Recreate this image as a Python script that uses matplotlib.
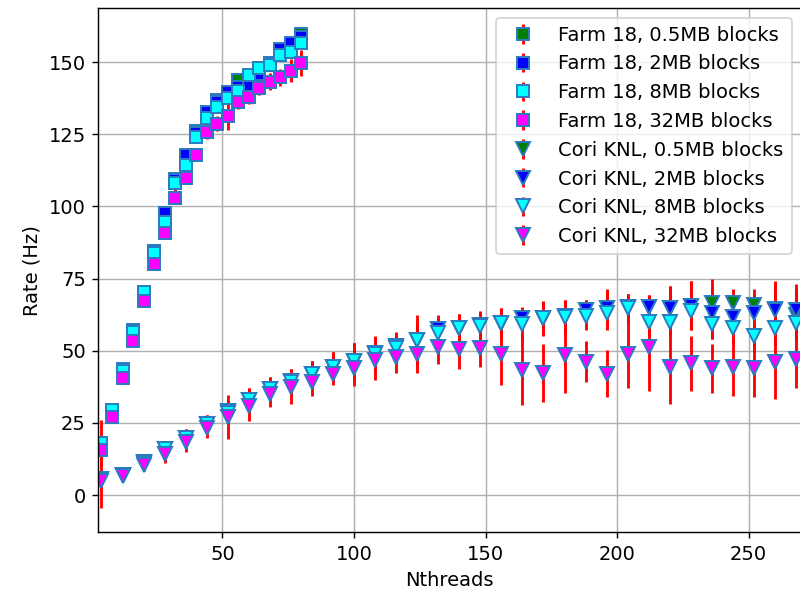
import matplotlib
matplotlib.use("Agg")
import matplotlib.pyplot as plt

# ---------------- data ----------------
farm_x = [4, 8, 12, 16, 20, 24, 28, 32, 36, 40, 44, 48, 52, 56, 60, 64, 68, 72, 76, 80]
farm_05 = [17.5, 29, 43, 57, 70.5, 84, 96, 109.5, 117, 126.2, 132.8, 137, 139, 143.7, 144.5, 144.7, 149, 154, 156, 159.6]
farm_2 = [18, 29.5, 43.5, 57, 70.5, 84.5, 97.8, 109, 117.8, 125.5, 132.8, 136, 139.7, 141.5, 141.8, 146, 149.5, 154.4, 156.7, 158.5]
farm_8 = [18.1, 29.4, 43, 56.6, 70.4, 83.9, 94.7, 108, 114.3, 124.1, 130.5, 134.5, 137.5, 140, 145.5, 147.8, 149, 152.4, 153.6, 156.7]
farm_32 = [15.6, 26.9, 40.4, 53.5, 67.2, 80, 90.6, 102.8, 109.7, 117.8, 125.8, 128.7, 131.3, 136.2, 138, 140.9, 143.2, 144.7, 147, 149.8]
farm_05_err = [1.5, 1, 1, 1, 1, 1.5, 1.5, 2, 1.5, 1.5, 1.5, 2, 2, 2, 2, 2, 2, 2, 2, 2]
farm_2_err = [1.5, 1, 1, 1, 1, 1.5, 1.5, 2, 1.5, 1.5, 1.5, 2, 2, 2, 2, 2, 2, 2, 2, 2]
farm_8_err = [8, 1, 1, 1, 1, 1.5, 1.5, 3.5, 2, 1.5, 2, 2, 2, 2, 2, 2, 2, 2, 2, 2]
farm_32_err = [2, 1, 1, 1, 1, 1.5, 1.5, 2, 2, 1.5, 2.5, 2.5, 5, 2.5, 2.5, 2.5, 3, 3, 4, 4.5]

cori_x = [4, 12, 20, 28, 36, 44, 52, 60, 68, 76, 84, 92, 100, 108, 116, 124, 132,
          140, 148, 156, 164, 172, 180, 188, 196, 204, 212, 220, 228, 236, 244, 252, 260, 268]
cori_05 = [5.5, 7, 11.3, 16, 19.8, 24.6, 29, 33, 36.8, 39.5, 42, 44.5, 46.6, 49.2, 51.6, 53.8, 57.4,
           57.8, 58.8, 59.7, 61.2, 61.3, 61.9, 64.1, 64.9, 65.2, 65.2, 64.9, 65.5, 66.4, 66.4, 66, 64.5, 62.5]
cori_2 = [5.5, 7, 11.3, 16, 19.8, 24.6, 29, 33, 36.8, 39.5, 42, 44.5, 46.6, 49.2, 51.6, 53.8, 57.4,
          57.8, 58.8, 59.7, 61.2, 61.3, 61.9, 64.1, 64.9, 65.2, 65.2, 64.9, 65.5, 63.2, 61.8, 63.2, 64.1, 64.1]
cori_8 = [5.5, 7, 11.2, 16, 19.7, 24.5, 28.5, 32.9, 36.7, 39.3, 41.8, 44.4, 46.5, 49, 50.8, 53.7, 56,
          57.7, 58.5, 59.5, 59.2, 61.2, 61.8, 62, 63.1, 64.7, 60, 60, 63.7, 59.1, 57.7, 55.1, 57.7, 59.5]
cori_32 = [5, 6.5, 10.5, 14.2, 18.3, 23.2, 27, 30.8, 34.9, 37.5, 39.3, 42.1, 43.9, 46.8, 47.9, 48.8, 51.4,
           50.5, 50.8, 49, 43.3, 42.4, 48.5, 46.2, 42.1, 49, 51.2, 44.2, 45.6, 43.9, 44.2, 43.9, 46.2, 47]
cori_05_err = [3, 1.5, 2, 2.5, 3, 3, 4, 4, 4, 4, 4.5, 5, 6, 6, 5, 6, 5,
               5, 5, 5, 4, 5.5, 5.5, 3.5, 6, 4.5, 4, 7.5, 8.5, 8.5, 5, 5.5, 9.5, 9]
cori_2_err = [3, 1.5, 2, 2.5, 3, 3, 3.5, 4, 4, 3.5, 4.5, 5, 6, 5.5, 4.5, 6, 4,
              4.5, 4.5, 5, 3.5, 5.5, 5.5, 3.5, 6.5, 4.5, 4, 7.5, 8.5, 9, 6, 6, 9.5, 9]
cori_8_err = [3, 1.5, 2, 2.5, 3, 3, 4, 4, 4, 3.5, 4.5, 5, 6, 5.5, 5, 8.5, 4.5,
              5, 5, 5, 5, 6, 5.5, 5, 6, 5, 5, 5, 6, 5, 5, 5, 6, 6]
cori_32_err = [9.5, 1.5, 2, 3, 3.5, 3.5, 7.5, 5, 4.5, 6, 5, 4, 6, 7, 5.5, 6.5, 6,
               7, 6.5, 11, 12, 10, 13, 7, 8, 12, 15, 12.5, 9.5, 8.5, 10, 10, 13, 10]

labels = ["Farm 18, 0.5MB blocks", "Farm 18, 2MB blocks", "Farm 18, 8MB blocks", "Farm 18, 32MB blocks",
          "Cori KNL, 0.5MB blocks", "Cori KNL, 2MB blocks", "Cori KNL, 8MB blocks", "Cori KNL, 32MB blocks"]
colors = ["green", "blue", "cyan", "magenta"]

# ---------------- plot ----------------
plt.rcParams["font.size"] = 11
plt.rcParams["font.family"] = ["DejaVu Sans"]

fig = plt.figure(figsize=(800 / 128, 590 / 128), dpi=128)
ax = fig.add_axes([0.1229, 0.0978, 0.8787, 0.8886])

farm_series = [(farm_05, farm_05_err), (farm_2, farm_2_err), (farm_8, farm_8_err), (farm_32, farm_32_err)]
cori_series = [(cori_05, cori_05_err), (cori_2, cori_2_err), (cori_8, cori_8_err), (cori_32, cori_32_err)]

for i, (y, e) in enumerate(farm_series):
    ax.errorbar(farm_x, y, yerr=e, fmt="s", color=colors[i], ecolor="red", elinewidth=1.6,
                mec="#2b7bc0", mew=1.1, ms=6.5, label=labels[i])
for i, (y, e) in enumerate(cori_series):
    ax.errorbar(cori_x, y, yerr=e, fmt="v", color=colors[i], ecolor="red", elinewidth=1.6,
                mec="#2b7bc0", mew=1.1, ms=7.5, label=labels[4 + i])

ax.set_xlim(2.8, 270.0)
ax.set_ylim(-12.9, 168.7)
ax.set_xticks([50, 100, 150, 200, 250])
ax.set_yticks([0, 25, 50, 75, 100, 125, 150])
ax.grid(True)
ax.set_axisbelow(True)
ax.set_xlabel("Nthreads")
ax.set_ylabel("Rate (Hz)")
ax.legend(loc="upper right")

fig.savefig("out.png", dpi=128)
